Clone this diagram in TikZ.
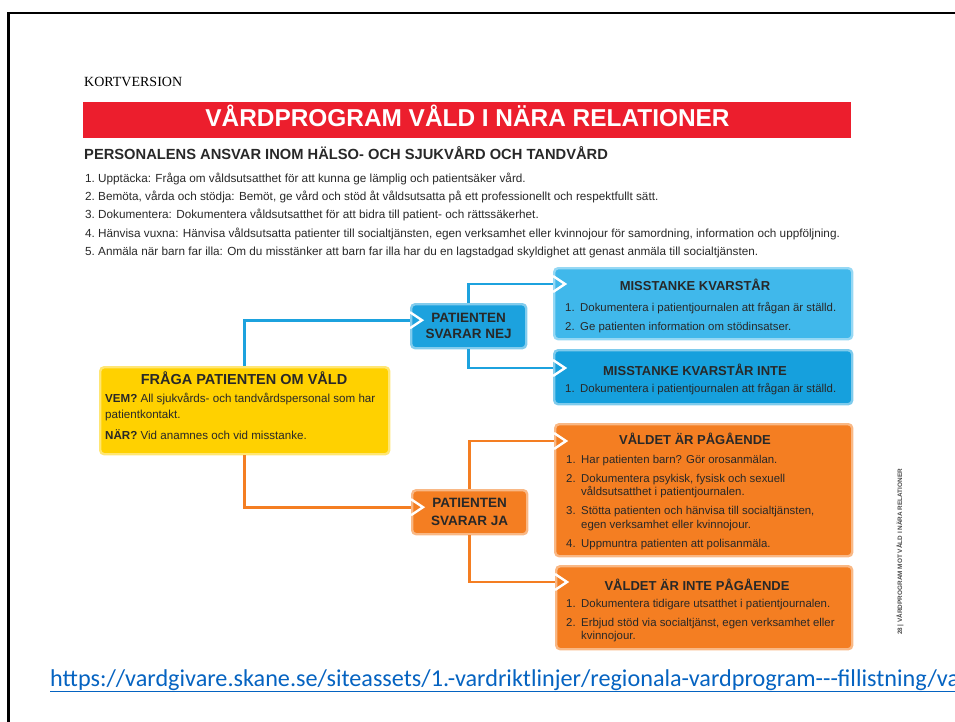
\documentclass[tikz,border=0pt]{standalone}
\usepackage{fontspec}
\setmainfont{Liberation Sans}
\newfontfamily\serifface{Liberation Serif}
\newfontfamily\linkface{Carlito}
\usetikzlibrary{positioning, calc}

\definecolor{bannerred}{RGB}{236,30,45}
\definecolor{askyellow}{RGB}{255,209,0}
\definecolor{nejblue}{RGB}{28,162,222}
\definecolor{kvblue}{RGB}{64,184,235}
\definecolor{inteblue}{RGB}{22,160,221}
\definecolor{jaorange}{RGB}{244,126,34}
\definecolor{ink}{RGB}{40,40,40}
\definecolor{linkblue}{RGB}{5,99,193}

\newcommand{\nr}[1]{\makebox[15pt][l]{#1}}
\newcommand{\cont}{\hspace*{15pt}}
\newcommand{\notch}[1]{\draw[notchline] ([shift={(0pt,8pt)}]#1) -- ([xshift=12pt]#1) -- ([shift={(0pt,-8pt)}]#1);}

\begin{document}
\begin{tikzpicture}[x=1pt, y=-1pt,
  box/.style={rectangle, rounded corners=4pt, line width=2.4pt, inner sep=0pt, anchor=north west},
  yellowbox/.style={box, fill=askyellow, draw=askyellow!55!white},
  nejbox/.style={box, fill=nejblue, draw=nejblue!55!white, align=center, text=ink, font=\bfseries\fontsize{13.5}{16}\selectfont},
  kvbox/.style={box, fill=kvblue, draw=kvblue!55!white},
  intebox/.style={box, fill=inteblue, draw=inteblue!55!white},
  jabox/.style={box, fill=jaorange, draw=jaorange!55!white, align=center, text=ink, font=\bfseries\fontsize{13.5}{18}\selectfont},
  orangebox/.style={box, fill=jaorange, draw=jaorange!55!white},
  ttl/.style={font=\bfseries\fontsize{13}{15}\selectfont, text=ink, inner sep=0pt, anchor=base},
  lst/.style={font=\fontsize{11.4}{13.5}\selectfont, text=ink, align=left, inner sep=0pt, anchor=base west},
  nejline/.style={line width=2.6pt, nejblue},
  jaline/.style={line width=2.6pt, jaorange},
  notchline/.style={white, line width=2.4pt, miter limit=4}
]
\useasboundingbox (0,0) rectangle (955,722);

% slide frame
\draw[line width=2.6pt] (8.7,730) -- (8.7,13) -- (960,13);

% header (list nodes sit on the baseline of their last line)
\node[font=\serifface\fontsize{14}{16}\selectfont, anchor=base west, inner sep=0pt] (kort) at (84,86.7) {KORTVERSION};
\node[fill=bannerred, minimum width=768pt, minimum height=36pt, anchor=north west, inner sep=0pt] (banner) at (83,102) {};
\node[font=\bfseries\fontsize{24.4}{26}\selectfont, text=white, anchor=base, inner sep=0pt] (titel) at (467.5,126.7) {VÅRDPROGRAM VÅLD I NÄRA RELATIONER};
\node[font=\bfseries\fontsize{14.7}{16}\selectfont, text=ink, anchor=base west, inner sep=0pt] (ansvar) at (84,160) {PERSONALENS ANSVAR INOM HÄLSO- OCH SJUKVÅRD OCH TANDVÅRD};
\node[font=\fontsize{11.75}{18.1}\selectfont, text=ink, align=left, anchor=base west, inner sep=0pt] (ansvarlista) at (85,255.1) {
  \makebox[13pt][l]{1.}Upptäcka: Fråga om våldsutsatthet för att kunna ge lämplig och patientsäker vård.\\
  \makebox[13pt][l]{2.}Bemöta, vårda och stödja: Bemöt, ge vård och stöd åt våldsutsatta på ett professionellt och respektfullt sätt.\\
  \makebox[13pt][l]{3.}Dokumentera: Dokumentera våldsutsatthet för att bidra till patient- och rättssäkerhet.\\
  \makebox[13pt][l]{4.}Hänvisa vuxna: Hänvisa våldsutsatta patienter till socialtjänsten, egen verksamhet eller kvinnojour för samordning, information och uppföljning.\\
  \makebox[13pt][l]{5.}Anmäla när barn far illa: Om du misstänker att barn far illa har du en lagstadgad skyldighet att genast anmäla till socialtjänsten.
};

% start box
\node[yellowbox, minimum width=289pt, minimum height=87pt] (fraga) at (99,366) {};
\node[ttl, font=\bfseries\fontsize{14.5}{16}\selectfont] (fragaT) at (244,384) {FRÅGA PATIENTEN OM VÅLD};
\node[lst, font=\fontsize{11.6}{16}\selectfont] (fragaX) at (105,439) {\textbf{VEM?} All sjukvårds- och tandvårdspersonal som har\\patientkontakt.\\[5pt]\textbf{NÄR?} Vid anamnes och vid misstanke.};

% answer boxes
\node[nejbox, minimum width=115pt, minimum height=44pt] (nej) at (410,303) {PATIENTEN\\SVARAR NEJ};
\node[jabox, minimum width=115pt, minimum height=44pt] (ja) at (411,489) {PATIENTEN\\SVARAR JA};

% outcome boxes
\node[kvbox, minimum width=298pt, minimum height=71pt] (kv) at (553,267) {};
\node[ttl] (kvT) at (695,290.7) {MISSTANKE KVARSTÅR};
\node[lst] (kvL) at (565,330) {\nr{1.}Dokumentera i patientjournalen att frågan är ställd.\\[5.5pt]\nr{2.}Ge patienten information om stödinsatser.};

\node[intebox, minimum width=298pt, minimum height=54pt] (kvi) at (553,349) {};
\node[ttl] (kviT) at (695,375) {MISSTANKE KVARSTÅR INTE};
\node[lst] (kviL) at (565,392) {\nr{1.}Dokumentera i patientjournalen att frågan är ställd.};

\node[orangebox, minimum width=297pt, minimum height=132pt] (pag) at (554,423) {};
\node[ttl] (pagT) at (695,444) {VÅLDET ÄR PÅGÅENDE};
\node[lst] (pagL) at (566,547) {\nr{1.}Har patienten barn? Gör orosanmälan.\\[5.5pt]
  \nr{2.}Dokumentera psykisk, fysisk och sexuell\\\cont våldsutsatthet i patientjournalen.\\[5.5pt]
  \nr{3.}Stötta patienten och hänvisa till socialtjänsten,\\\cont egen verksamhet eller kvinnojour.\\[5.5pt]
  \nr{4.}Uppmuntra patienten att polisanmäla.};

\node[orangebox, minimum width=296pt, minimum height=83pt] (ipag) at (555,565) {};
\node[ttl] (ipagT) at (697,590) {VÅLDET ÄR INTE PÅGÅENDE};
\node[lst] (ipagL) at (566,639.5) {\nr{1.}Dokumentera tidigare utsatthet i patientjournalen.\\[5.5pt]
  \nr{2.}Erbjud stöd via socialtjänst, egen verksamhet eller\\\cont kvinnojour.};

% connectors
\draw[nejline] (fraga.north) |- ([yshift=6pt]nej.west) coordinate (nejIn);
\draw[nejline] (nej.north) |- ([yshift=-17pt]kv.north west) coordinate (kvIn);
\draw[nejline] (nej.south) |- ([yshift=-19pt]kvi.north west) coordinate (kviIn);
\draw[jaline] (fraga.south) |- ([yshift=5pt]ja.west) coordinate (jaIn);
\draw[jaline] (ja.north) |- ([yshift=-18pt]pag.north west) coordinate (pagIn);
\draw[jaline] (ja.south) |- ([yshift=-17pt]ipag.north west) coordinate (ipagIn);
\notch{nejIn}
\notch{kvIn}
\notch{kviIn}
\notch{jaIn}
\notch{pagIn}
\notch{ipagIn}

% page footer
\node[font=\bfseries\fontsize{6.4}{7}\selectfont, text=black!70, rotate=90, inner sep=0pt] (sidetxt) at (900,552) {28 | VÅRDPROGRAM MOT VÅLD I NÄRA RELATIONER};
\node[font=\linkface\fontsize{24.2}{26}\selectfont, text=linkblue, anchor=base west, inner sep=0pt] (link) at (50,686) {\underline{https://vardgivare.skane.se/siteassets/1.-vardriktlinjer/regionala-vardprogram-\kern0pt-\kern0pt-fillistning/va}};
\end{tikzpicture}
\end{document}
